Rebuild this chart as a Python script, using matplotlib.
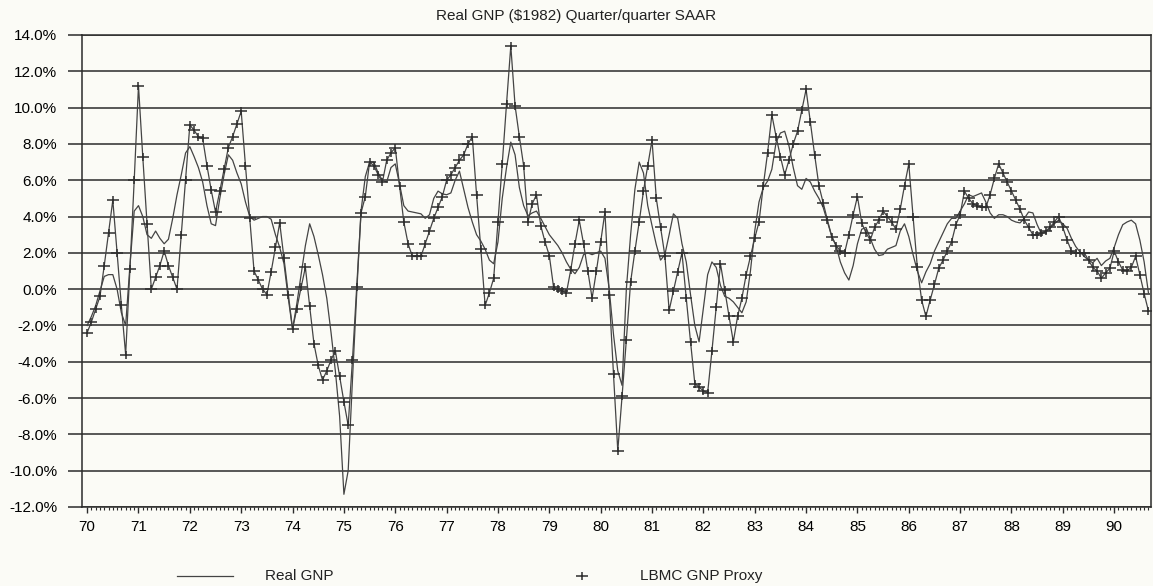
import numpy as np
import matplotlib
matplotlib.use("Agg")
import matplotlib.pyplot as plt
from matplotlib.path import Path
from matplotlib.lines import Line2D

plt.rcParams["font.family"] = ["Liberation Sans", "DejaVu Sans"]

TITLE = "Real GNP ($1982) Quarter/quarter SAAR"
YEAR_LABELS = [str(y) for y in range(70, 91)]
Y_TICKS = list(range(-12, 15, 2))

# monthly readings, Jan 1970 .. Sep 1990 (percent, SAAR)
real_gnp = [
    -2.0, -1.5, -0.9, -0.1, 0.7, 0.8, 0.8, 0.0, -1.3, -2.0, 1.3, 4.3,        # 70
    4.6, 4.0, 3.0, 2.8, 3.2, 2.8, 2.5, 2.75, 3.9, 5.2, 6.3, 7.5,             # 71
    7.85, 7.3, 6.7, 5.9, 4.6, 3.6, 3.5, 5.0, 6.3, 7.4, 7.1, 6.4,            # 72
    5.8, 4.8, 4.0, 3.8, 3.9, 4.0, 4.0, 3.85, 3.0, 2.3, 1.4, -0.5,           # 73
    -2.2, -0.8, 0.8, 2.4, 3.6, 2.9, 1.9, 0.8, -0.5, -2.4, -4.5, -7.0,       # 74
    -11.3, -10.0, -5.0, -0.2, 4.3, 6.2, 7.0, 7.0, 6.4, 6.0, 5.9, 6.7,       # 75
    6.9, 5.8, 4.6, 4.3, 4.25, 4.2, 4.15, 3.9, 4.1, 5.0, 5.4, 5.25,          # 76
    5.2, 5.3, 6.0, 6.5, 5.5, 4.5, 3.7, 3.0, 2.65, 2.2, 1.6, 1.4,            # 77
    2.6, 5.0, 6.7, 8.1, 7.4, 5.6, 4.6, 4.05, 4.2, 4.3, 3.9, 3.45,           # 78
    3.0, 2.7, 2.4, 2.0, 1.5, 1.1, 0.85, 1.2, 1.9, 2.0, 1.9, 2.0,            # 79
    2.1, 1.7, 0.0, -2.5, -4.5, -5.3, 0.0, 3.0, 5.5, 7.0, 6.4, 4.6,          # 80
    3.5, 2.45, 1.6, 1.9, 3.0, 4.15, 3.9, 2.5, 1.5, -0.3, -2.0, -2.9,        # 81
    -1.07, 0.8, 1.5, 1.2, 0.2, -0.4, -0.5, -0.7, -1.0, -1.3, -0.7, 1.0,     # 82
    3.2, 4.8, 5.6, 5.95, 6.6, 8.1, 8.6, 8.7, 7.9, 6.7, 5.7, 5.5,            # 83
    6.1, 5.9, 5.4, 5.0, 4.5, 3.7, 2.9, 2.4, 1.5, 0.9, 0.5, 1.3,             # 84
    2.5, 3.3, 3.4, 2.8, 2.2, 1.85, 1.9, 2.2, 2.3, 2.4, 3.2, 3.6,            # 85
    2.9, 1.9, 1.0, 0.35, 0.95, 1.4, 2.1, 2.6, 3.1, 3.6, 3.9, 3.9,           # 86
    4.3, 4.7, 5.2, 5.1, 5.2, 5.3, 4.8, 4.2, 3.9, 4.1, 4.1, 4.0,             # 87
    3.8, 3.7, 3.65, 3.9, 4.25, 4.2, 3.55, 3.05, 3.15, 3.35, 3.6, 3.8,       # 88
    3.6, 3.35, 2.8, 2.35, 2.05, 1.8, 1.6, 1.45, 1.7, 1.3, 1.55, 1.7,        # 89
    2.3, 3.0, 3.55, 3.7, 3.8, 3.6, 2.7, 1.5, -0.2,                          # 90
]

lbmc_proxy = [
    -2.4, -1.8, -1.1, -0.4, 1.3, 3.1, 4.9, 2.0, -0.9, -3.6, 1.1, 6.0,       # 70
    11.2, 7.3, 3.6, 0.0, 0.65, 1.3, 2.1, 1.3, 0.65, 0.0, 3.0, 6.0,          # 71
    9.05, 8.75, 8.4, 8.3, 6.8, 5.45, 4.25, 5.4, 6.6, 7.8, 8.4, 9.1,         # 72
    9.8, 6.8, 3.9, 1.0, 0.5, 0.0, -0.3, 0.96, 2.3, 3.65, 1.7, -0.3,         # 73
    -2.2, -1.07, 0.1, 1.2, -0.94, -3.0, -4.2, -5.0, -4.5, -3.9, -3.4, -4.8, # 74
    -6.2, -7.5, -3.9, 0.1, 4.2, 5.1, 7.0, 6.8, 6.3, 5.9, 7.1, 7.5,          # 75
    7.8, 5.7, 3.7, 2.5, 1.8, 1.8, 1.8, 2.5, 3.2, 3.9, 4.5, 5.1,             # 76
    6.0, 6.3, 6.7, 7.1, 7.4, 8.0, 8.4, 5.2, 2.2, -0.9, -0.2, 0.6,           # 77
    3.7, 6.9, 10.2, 13.4, 10.1, 8.4, 6.8, 3.7, 4.7, 5.2, 3.5, 2.6,          # 78
    1.85, 0.1, 0.0, -0.1, -0.2, 1.05, 2.5, 3.8, 2.5, 1.0, -0.5, 1.0,        # 79
    2.6, 4.25, -0.3, -4.7, -8.9, -5.9, -2.8, 0.4, 2.1, 3.7, 5.4, 6.8,       # 80
    8.2, 5.0, 3.4, 1.85, -1.17, -0.1, 0.96, 2.0, -0.5, -2.9, -5.2, -5.4,    # 81
    -5.6, -5.7, -3.4, -1.0, 1.4, -0.05, -1.5, -2.9, -1.5, -0.5, 0.8, 1.8,   # 82
    2.8, 3.7, 5.7, 7.5, 9.6, 8.4, 7.3, 6.3, 7.1, 8.0, 8.7, 9.85,            # 83
    11.0, 9.2, 7.4, 5.7, 4.75, 3.8, 2.9, 2.4, 2.1, 2.0, 3.0, 4.1,           # 84
    5.1, 3.65, 3.1, 2.7, 3.4, 3.8, 4.3, 4.0, 3.7, 3.3, 4.4, 5.7,            # 85
    6.9, 4.0, 1.2, -0.6, -1.5, -0.6, 0.26, 1.15, 1.6, 2.1, 2.6, 3.55,       # 86
    4.1, 5.4, 5.0, 4.7, 4.6, 4.5, 4.5, 5.2, 6.1, 6.9, 6.4, 5.9,             # 87
    5.4, 4.9, 4.4, 3.8, 3.4, 3.0, 3.0, 3.1, 3.2, 3.4, 3.7, 4.0,             # 88
    3.4, 2.7, 2.1, 2.0, 2.0, 2.0, 1.6, 1.2, 1.0, 0.6, 0.9, 1.15,            # 89
    2.1, 1.5, 1.05, 1.0, 1.2, 1.8, 0.8, -0.25, -1.2,                        # 90
]

INK = "#2b2b2b"
PAPER = "#fbfbf6"
TXT = 11

months = np.arange(len(real_gnp))

# wide, short "+" like the plotter's marker
PLUS = Path([(-1, 0), (1, 0), (0, -0.75), (0, 0.75)],
            [Path.MOVETO, Path.LINETO, Path.MOVETO, Path.LINETO])

fig = plt.figure(figsize=(11.53, 5.86), dpi=100, facecolor=PAPER)
ax = fig.add_axes([82 / 1153, 1 - 507 / 586, (1151 - 82) / 1153, (507 - 35) / 586])
ax.set_facecolor(PAPER)

ax.plot(months, real_gnp, color="#444444", lw=0.9, zorder=3)
ax.plot(months, lbmc_proxy, color="#444444", lw=0.9, marker=PLUS, ms=8,
        mew=1.1, mec="#2e2e2e", zorder=4)

ax.set_xlim(-1.2, 248.6)
ax.set_ylim(-12, 14)

ax.set_yticks(Y_TICKS)
ax.set_yticklabels([f"{v:.1f}%" for v in Y_TICKS])
ax.yaxis.grid(True, color=INK, lw=1.1)
ax.tick_params(axis="y", length=10, width=1.1, color=INK, pad=8, labelsize=TXT)

ax.set_xticks(np.arange(0, 241, 12))
ax.set_xticklabels(YEAR_LABELS)
ax.set_xticks(np.arange(0, 249, 1), minor=True)
ax.tick_params(axis="x", which="major", length=4.5, width=1.0, color=INK, pad=5, labelsize=TXT)
ax.tick_params(axis="x", which="minor", length=2.2, width=0.8, color=INK)

for s in ax.spines.values():
    s.set_color(INK)
    s.set_linewidth(1.1)

fig.text(0.5, 1 - 16 / 586, TITLE, ha="center", va="center", fontsize=TXT, color="#222222")

# legend drawn along the bottom, as in the original printout
ly = 1 - 576 / 586
fig.add_artist(Line2D([177 / 1153, 233 / 1153], [ly, ly], transform=fig.transFigure,
                      color="#444444", lw=0.9))
fig.text(265 / 1153, ly, "Real GNP", ha="left", va="center", fontsize=TXT, color="#222222")
fig.add_artist(Line2D([582 / 1153], [ly], transform=fig.transFigure, ls="none",
                      marker=PLUS, ms=8, mew=1.1, mec="#2e2e2e"))
fig.text(640 / 1153, ly, "LBMC GNP Proxy", ha="left", va="center", fontsize=TXT, color="#222222")

fig.savefig("out.png", dpi=100, facecolor=PAPER)
